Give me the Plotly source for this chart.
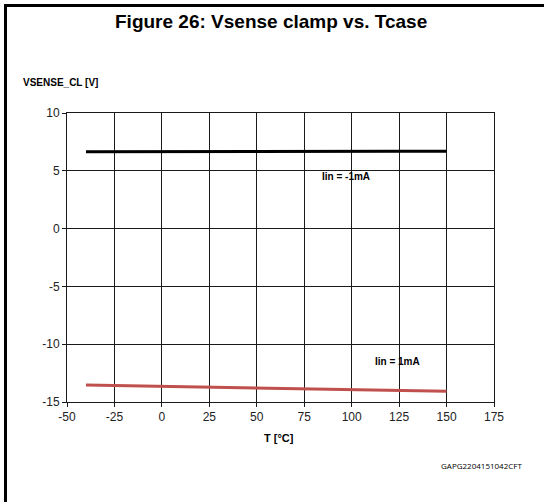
import plotly.graph_objects as go

# data
temp = [-40, -25, 0, 25, 50, 75, 100, 125, 150]
v_neg = [6.65, 6.66, 6.67, 6.68, 6.69, 6.69, 6.7, 6.7, 6.7]       # Iin = -1mA
v_pos = [-13.54, -13.58, -13.64, -13.7, -13.77, -13.85, -13.93, -14.0, -14.08]  # Iin = 1mA

x_ticks = [-50, -25, 0, 25, 50, 75, 100, 125, 150, 175]
y_ticks = [-15, -10, -5, 0, 5, 10]

FONT = "Liberation Sans, Arial, sans-serif"

fig = go.Figure()
fig.add_trace(go.Scatter(x=temp, y=v_neg, mode="lines",
                         line=dict(color="#000000", width=3), showlegend=False))
fig.add_trace(go.Scatter(x=temp, y=v_pos, mode="lines",
                         line=dict(color="#C0504D", width=3), showlegend=False))

axis_common = dict(
    showgrid=True, gridcolor="#1a1a1a", gridwidth=1,
    showline=True, linecolor="#1a1a1a", linewidth=1, mirror=True,
    zeroline=False, ticks="outside", ticklen=4, tickcolor="#1a1a1a",
    tickfont=dict(family=FONT, size=12, color="#222222"),
)

# frame edges in pixels -> paper units
PW, PH, L, B = 427, 289, 67, 100
def px_x(p):
    return (p - L) / PW
def px_y(p):
    return (502 - B - p) / PH

fig.update_layout(
    width=544, height=502,
    paper_bgcolor="white", plot_bgcolor="white",
    margin=dict(l=L, r=50, t=113, b=B),
    xaxis=dict(range=[-50, 175], tickvals=x_ticks,
               ticktext=[str(v) for v in x_ticks], **axis_common),
    yaxis=dict(range=[-15, 10], tickvals=y_ticks,
               ticktext=[str(v) for v in y_ticks], **axis_common),
    annotations=[
        dict(text="<b>Figure 26: Vsense clamp vs. Tcase</b>", xref="paper", yref="paper",
             x=0.478, y=1.316, xanchor="center", yanchor="middle", showarrow=False,
             font=dict(family=FONT, size=19, color="#000000")),
        dict(text="<b>VSENSE_CL [V]</b>", xref="paper", yref="paper",
             x=-0.107, y=1.107, xanchor="left", yanchor="middle", showarrow=False,
             font=dict(family=FONT, size=10, color="#000000")),
        dict(text="<b>T [°C]</b>", xref="paper", yref="paper",
             x=0.497, y=-0.125, xanchor="center", yanchor="middle", showarrow=False,
             font=dict(family=FONT, size=11, color="#000000")),
        dict(text="<b>Iin = -1mA</b>", x=83.5, y=4.55, xanchor="left", yanchor="middle",
             showarrow=False, font=dict(family=FONT, size=10, color="#000000")),
        dict(text="<b>Iin = 1mA</b>", x=111.4, y=-11.5, xanchor="left", yanchor="middle",
             showarrow=False, font=dict(family=FONT, size=10, color="#000000")),
        dict(text="GAPG2204151042CFT", xref="paper", yref="paper",
             x=1.07, y=-0.218, xanchor="right", yanchor="middle", showarrow=False,
             font=dict(family="Open Sans, sans-serif", size=8, color="#000000")),
    ],
    shapes=[
        # top edge of the outer frame
        dict(type="rect", xref="paper", yref="paper",
             x0=px_x(4), x1=px_x(544), y0=px_y(7), y1=px_y(4),
             fillcolor="#000000", line=dict(width=0)),
        # left edge of the outer frame
        dict(type="rect", xref="paper", yref="paper",
             x0=px_x(4), x1=px_x(7), y0=px_y(502), y1=px_y(4),
             fillcolor="#000000", line=dict(width=0)),
    ],
)

fig.write_html(
    "out.html",
    config={"displayModeBar": False},
    post_script="document.body.style.margin='0';document.body.style.overflow='hidden';",
)
